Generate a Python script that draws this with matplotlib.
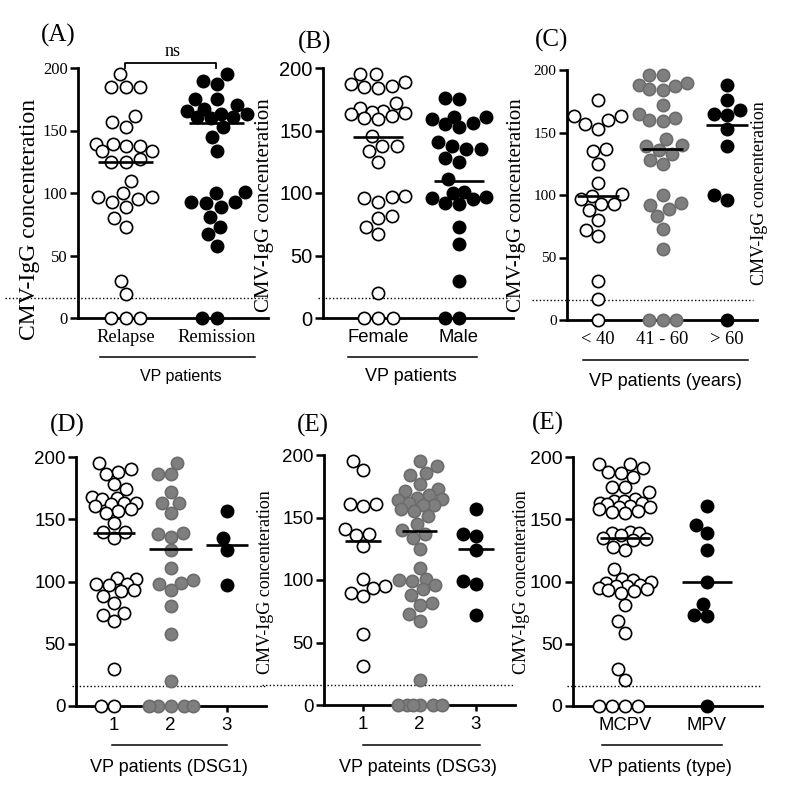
import numpy as np
import matplotlib
matplotlib.use("Agg")
import matplotlib.pyplot as plt
from matplotlib.lines import Line2D

SERIF = "Liberation Serif"
SANS = "Liberation Sans"

# ---------------- data ----------------
A_categories = ["Relapse", "Remission"]
A_relapse = [195, 185, 184.5, 184.5, 162, 156.5, 153, 139.5, 139, 138, 138, 134, 134, 127, 125, 125,
             110, 100, 97, 97, 95.5, 93, 89, 80, 73, 30, 19, 0, 0, 0]
A_remission = [195, 190, 187, 175.5, 175, 170.5, 167, 166, 163.5, 163, 161, 161, 160, 153, 145, 134,
               100.5, 100, 93, 92.5, 92, 89, 81, 72.5, 67, 58, 0, 0]
A_medians = [125, 156]

B_categories = ["Female", "Male"]
B_female = [195.5, 195.5, 189, 187, 186, 185, 184, 172, 168, 166, 165, 164, 163, 162, 160, 159, 146,
            138, 138, 134, 125, 98, 97, 96, 93, 82, 80, 73, 67, 20, 0, 0, 0]
B_male = [176, 175, 161, 161, 159, 156, 155, 153, 141, 138, 135, 135, 128, 125, 111, 101, 100, 97, 96,
          95, 92, 91, 73, 59, 30, 0, 0]
B_medians = [145, 110]

C_categories = ["< 40", "41 - 60", "> 60"]
C_lt40 = [176, 163, 163, 160, 157, 153, 137, 135, 125, 110, 101, 99, 97, 93, 93, 88, 80, 72, 67, 31, 17, 0]
C_41_60 = [196, 196, 190, 188, 187, 185, 184, 172, 165, 162, 160, 159, 145, 140, 139, 136, 133, 128, 125,
           100, 94, 92, 89, 83, 73, 57, 0, 0, 0]
C_gt60 = [188, 176, 168, 165, 164, 153, 139, 100, 96, 0]
C_medians = [99, 137, 156]

D_categories = ["1", "2", "3"]
D_1 = [195, 190, 188, 186, 178, 174, 168, 167, 166, 163, 163, 162, 161, 158, 157, 155, 147, 140, 140, 135,
       103, 102, 98, 98, 97, 93, 92, 88, 83, 75, 73, 68, 30, 0, 0]
D_2 = [195, 186, 186, 172, 163, 163, 155, 139, 138, 136, 125, 111, 101, 99, 98, 93, 80, 58, 20, 0, 0, 0, 0, 0]
D_3 = [157, 135, 125, 97]
D_medians = [139, 126, 129]

E_categories = ["1", "2", "3"]
E_1 = [195, 188, 161, 161, 159, 141, 137, 136, 127, 101, 95, 94, 90, 87, 57, 31]
E_2 = [195, 191, 186, 184, 177, 173, 171, 168, 166, 165, 164, 162, 160, 160, 157, 155, 151, 145, 140, 137,
       134, 125, 110, 101, 100, 99, 96, 93, 88, 82, 80, 73, 67, 20, 0, 0, 0, 0, 0, 0]
E_3 = [157, 137, 135, 124, 99, 97, 72]
E_medians = [131, 139, 125]

F_categories = ["MCPV", "MPV"]
F_mcpv = [194, 194, 191, 188, 187, 184, 176, 176, 172, 166, 165, 165, 163, 163, 162, 161, 160, 160, 158,
          157, 156, 155, 140, 139, 139, 137, 135, 134, 133, 128, 125, 110, 102, 101, 100, 99, 97, 96, 96,
          95, 94, 93, 92, 91, 81, 68, 59, 30, 21, 0, 0, 0, 0]
F_mpv = [161, 145, 139, 125, 100, 82, 73, 72, 0]
F_medians = [135, 100]

y_ticks = [0, 50, 100, 150, 200]
cutoff = 16
ylabel_text = "CMV-IgG concenteration"

# ---------------- styles ----------------
OPEN = dict(facecolor="white", edgecolor="black")
GREY = dict(facecolor="#7f7f7f", edgecolor="#6c6c6c")
BLACK = dict(facecolor="black", edgecolor="black")

W, H = 800, 798
fig = plt.figure(figsize=(W / 100, H / 100), dpi=100)


def fx(px):
    return px / W


def fy(py):
    return 1 - py / H


def swarm(ypx, dist, maxw):
    """Beeswarm offsets (pixels) with a width cap; overlaps allowed when crowded."""
    ypx = np.asarray(ypx, float)
    order = np.argsort(ypx, kind="stable")
    placed = []
    xs = np.zeros(len(ypx))
    grid = np.linspace(-maxw, maxw, 53)
    for i in order:
        y = ypx[i]
        near = [(px, py) for px, py in placed if abs(py - y) < dist]
        cands = [0.0]
        for px, py in near:
            dx = np.sqrt(dist ** 2 - (py - y) ** 2)
            cands += [px - dx, px + dx]
        cands = [c for c in cands if abs(c) <= maxw + 1e-9]
        cands = sorted(cands, key=lambda c: (round(abs(c), 6), c))
        chosen = None
        for c in cands:
            if all((c - px) ** 2 + (y - py) ** 2 >= dist ** 2 - 1e-6 for px, py in near):
                chosen = c
                break
        if chosen is None:
            best, bestd = 0.0, -1
            for c in sorted(grid, key=lambda c: abs(c)):
                d = min(np.hypot(c - px, y - py) for px, py in near)
                if d > bestd + 1e-6:
                    best, bestd = c, d
            chosen = best
        xs[i] = chosen
        placed.append((chosen, y))
    return xs


panels = [
    dict(groups=[A_relapse, A_remission], styles=[OPEN, BLACK], meds=A_medians, cats=A_categories,
         left=78, right=268, y0=318, y200=68, c0=125.7, unit=91, dist=14.5, maxw=30, half=0.3,
         tickfont=(SERIF, 12), catfont=(SERIF, 13.3), letter="(A)", letter_xy=(58, 35),
         xlab="VP patients", xlab_xy=(181, 377), xlab_fs=11.5, uline=(100, 255, 357),
         dots=(5, 266)),
    dict(groups=[B_female, B_male], styles=[OPEN, BLACK], meds=B_medians, cats=B_categories,
         left=323, right=513, y0=318, y200=68, c0=378, unit=81, dist=14.5, maxw=27, half=0.31,
         tickfont=(SANS, 14.5), catfont=(SANS, 13.3), letter="(B)", letter_xy=(315, 42),
         xlab="VP patients", xlab_xy=(411, 377), xlab_fs=13, uline=(348, 477, 357),
         dots=(318, 510)),
    dict(groups=[C_lt40, C_41_60, C_gt60], styles=[OPEN, GREY, BLACK], meds=C_medians, cats=C_categories,
         left=567, right=757, y0=320, y200=70, c0=598, unit=64.5, dist=13.5, maxw=24, half=0.32,
         tickfont=(SERIF, 11), catfont=(SERIF, 13.3), letter="(C)", letter_xy=(552, 40),
         xlab="VP patients (years)", xlab_xy=(665, 381), xlab_fs=13, uline=(583, 748, 360),
         dots=(532, 753)),
    dict(groups=[D_1, D_2, D_3], styles=[OPEN, GREY, BLACK], meds=D_medians, cats=D_categories,
         left=76, right=266, y0=706, y200=457, c0=114, unit=56.5, dist=13, maxw=22, half=0.38,
         tickfont=(SANS, 13.5), catfont=(SANS, 13.5), letter="(D)", letter_xy=(67, 425),
         xlab="VP patients (DSG1)", xlab_xy=(169, 768), xlab_fs=13, uline=(112, 227, 745),
         dots=(72, 266)),
    dict(groups=[E_1, E_2, E_3], styles=[OPEN, GREY, BLACK], meds=E_medians, cats=E_categories,
         left=324, right=515, y0=705, y200=455, c0=363, unit=56.5, dist=13, maxw=22, half=0.31,
         tickfont=(SANS, 13.5), catfont=(SANS, 13.5), letter="(E)", letter_xy=(313, 425),
         xlab="VP pateints (DSG3)", xlab_xy=(418, 767), xlab_fs=13, uline=(363, 480, 745),
         dots=(262, 513)),
    dict(groups=[F_mcpv, F_mpv], styles=[OPEN, BLACK], meds=F_medians, cats=F_categories,
         left=573, right=762, y0=706, y200=457, c0=625, unit=82, dist=13, maxw=26, half=0.3,
         tickfont=(SANS, 14), catfont=(SANS, 13.3), letter="(E)", letter_xy=(548, 423),
         xlab="VP patients (type)", xlab_xy=(660, 768), xlab_fs=13, uline=(602, 722, 745),
         dots=(567, 760)),
]

for p in panels:
    ax = fig.add_axes([fx(p["left"]), fy(p["y0"]), (p["right"] - p["left"]) / W, (p["y0"] - p["y200"]) / H])
    ax.set_xlim((p["left"] - p["c0"]) / p["unit"], (p["right"] - p["c0"]) / p["unit"])
    ax.set_ylim(0, 200)
    ax.set_facecolor("none")
    for s in ["top", "right"]:
        ax.spines[s].set_visible(False)
    for s in ["left", "bottom"]:
        ax.spines[s].set_linewidth(2.0)
    ypx_per_unit = (p["y0"] - p["y200"]) / 200.0
    for k, (vals, st) in enumerate(zip(p["groups"], p["styles"])):
        vals = np.asarray(vals, float)
        off = swarm(vals * ypx_per_unit, p["dist"], p["maxw"]) / p["unit"]
        ax.scatter(k + off, vals, s=78, linewidths=1.2, clip_on=False, zorder=3, **st)
        ax.plot([k - p["half"], k + p["half"]], [p["meds"][k]] * 2, color="black", lw=1.9,
                zorder=4, solid_capstyle="butt")
    x0 = (p["dots"][0] - p["left"]) / (p["right"] - p["left"])
    x1 = (p["dots"][1] - p["left"]) / (p["right"] - p["left"])
    ax.plot([x0, x1], [cutoff, cutoff], transform=ax.get_yaxis_transform(), color="black",
            lw=1.0, ls=(0, (1, 1.6)), clip_on=False, zorder=2)
    ax.set_yticks(y_ticks)
    ax.set_yticklabels([str(t) for t in y_ticks], fontfamily=p["tickfont"][0], fontsize=p["tickfont"][1])
    ax.set_xticks(range(len(p["cats"])))
    ax.set_xticklabels(p["cats"], fontfamily=p["catfont"][0], fontsize=p["catfont"][1])
    ax.tick_params(axis="y", length=6, width=1.8, pad=1.5)
    ax.tick_params(axis="x", length=4, width=1.8, pad=4)
    fig.text(fx(p["letter_xy"][0]), fy(p["letter_xy"][1]), p["letter"], fontfamily=SERIF, fontsize=18,
             ha="center", va="center")
    fig.text(fx(p["xlab_xy"][0]), fy(p["xlab_xy"][1]), p["xlab"], fontfamily=SANS, fontsize=p["xlab_fs"],
             ha="center", va="center")
    u = p["uline"]
    fig.add_artist(Line2D([fx(u[0]), fx(u[1])], [fy(u[2]), fy(u[2])], color="black", lw=1.1))

# ns bracket on panel A
fig.add_artist(Line2D([fx(125), fx(125), fx(216), fx(216)], [fy(68), fy(63), fy(63), fy(68)],
                      color="black", lw=1.3))
fig.text(fx(173), fy(52), "ns", fontfamily=SERIF, fontsize=13, ha="center", va="center")

# y-axis titles placed between panels as in the composite
ylabels = [(30, 220, 17), (265, 205, 15), (517, 205, 15), (760, 193, 13), (265, 582, 13), (522, 582, 13)]
for x, y, fs in ylabels:
    fig.text(fx(x), fy(y), ylabel_text, fontfamily=SERIF, fontsize=fs, rotation=90,
             ha="center", va="center")

fig.savefig("out.png", dpi=100)
